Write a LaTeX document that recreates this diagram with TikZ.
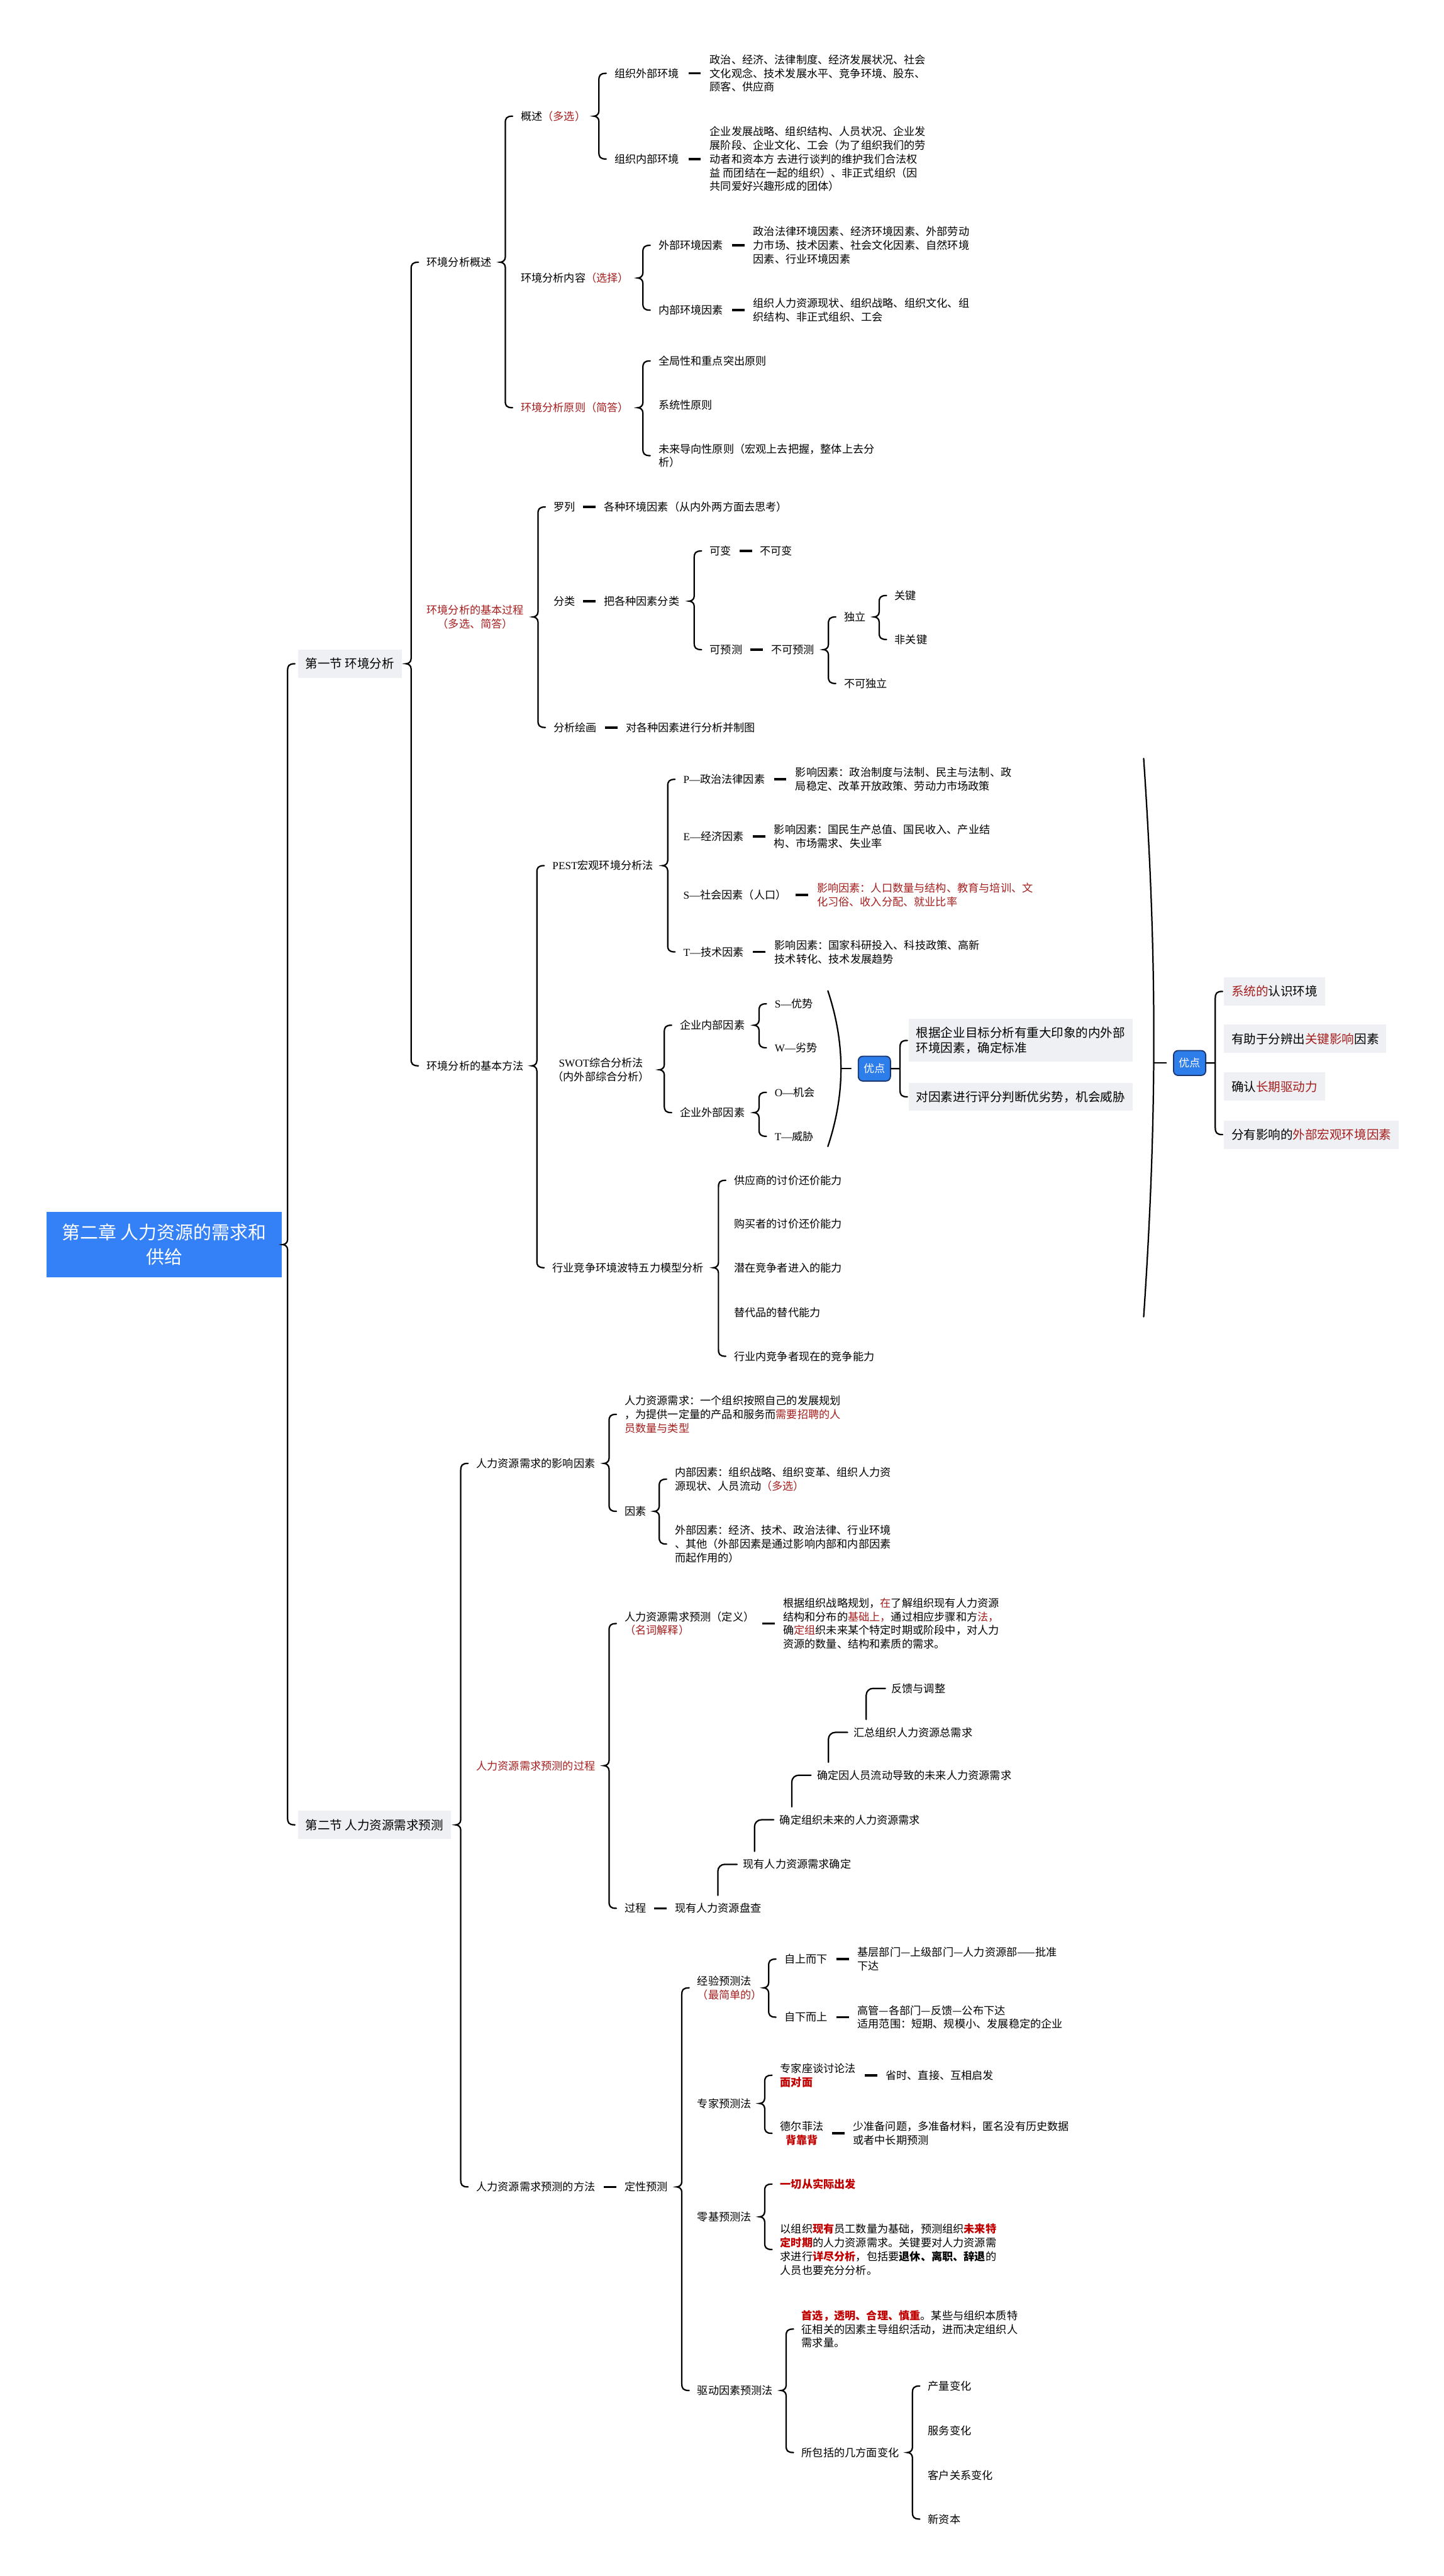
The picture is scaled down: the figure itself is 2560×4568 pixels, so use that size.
\documentclass[tikz,border=0pt]{standalone}
\usepackage{fontspec}
\setmainfont{Noto Sans CJK SC}
\newfontfamily\serf{Liberation Serif}
\usetikzlibrary{calc}

\definecolor{hred}{RGB}{165,30,30}
\definecolor{bred}{RGB}{192,0,0}
\definecolor{boxgray}{RGB}{238,240,243}
\definecolor{rootblue}{RGB}{52,128,246}
\definecolor{tagblue}{RGB}{45,125,235}
\definecolor{tagedge}{RGB}{25,55,110}

\newcommand{\nfont}{\fontsize{5.45pt}{6.9pt}\selectfont}
\newcommand{\bfont}{\fontsize{6.2pt}{7.7pt}\selectfont}
\newcommand{\rfont}{\fontsize{9.2pt}{12.3pt}\selectfont}
\newcommand{\rb}{\bfseries\color{bred}}

% brace: parent, first child, last child
\newcommand{\brc}[4][0mm]{%
  \draw[brline] let \p1=(#2.east), \p2=(#3.west), \p3=(#4.west) in
    (\x2-1.4mm+#1,\y2) .. controls (\x2-2.5mm+#1,\y2) and (\x2-2.7mm+#1,\y2-0.4mm) .. (\x2-2.7mm+#1,\y2-1.2mm)
    -- (\x2-2.7mm+#1,\y1+0.9mm) .. controls (\x2-2.7mm+#1,\y1+0.3mm) and (\x2-3.2mm+#1,\y1) .. (\x2-3.6mm+#1,\y1)
    .. controls (\x2-3.2mm+#1,\y1) and (\x2-2.7mm+#1,\y1-0.3mm) .. (\x2-2.7mm+#1,\y1-0.9mm)
    -- (\x2-2.7mm+#1,\y3+1.2mm) .. controls (\x2-2.7mm+#1,\y3+0.4mm) and (\x2-2.5mm+#1,\y3) .. (\x2-1.4mm+#1,\y3);}
% brace with a stub instead of a tip
\newcommand{\brcs}[3]{%
  \draw[brline] let \p1=(#1.east), \p2=(#2.west), \p3=(#3.west) in
    (\x2-0.2mm,\y2) .. controls (\x2-1.3mm,\y2) and (\x2-1.5mm,\y2-0.4mm) .. (\x2-1.5mm,\y2-1.2mm)
    -- (\x2-1.5mm,\y3+1.2mm) .. controls (\x2-1.5mm,\y3+0.4mm) and (\x2-1.3mm,\y3) .. (\x2-0.2mm,\y3)
    (\p1) -- (\x2-1.5mm,\y1);}
% short dash between two nodes
\newcommand{\dsh}[2]{%
  \draw[dline] let \p1=(#1.east), \p2=(#2.west) in
    ({(\x1+\x2)/2-1.1mm},\y1) -- ({(\x1+\x2)/2+1.1mm},\y1);}
% step of the process chain
\newcommand{\stp}[2]{%
  \draw[brline, rounded corners=1.2mm] let \p1=(#1.center), \p2=(#2.west) in
    (\x2-4.4mm,\y1+2.3mm) |- (\x2-1mm,\y2);}

\tikzset{
  t/.style={anchor=west, inner sep=0pt, align=left, font=\nfont},
  tc/.style={t, align=center},
  gbox/.style={anchor=west, fill=boxgray, inner xsep=1.3mm, inner ysep=1.4mm, minimum height=5mm, align=left, font=\bfont},
  sec/.style={gbox},
  tag/.style={anchor=west, fill=tagblue, draw=tagedge, line width=0.2mm, rounded corners=0.8mm, text=white, font=\nfont, minimum width=5.7mm, minimum height=4.4mm, inner sep=0pt},
  root/.style={anchor=west, fill=rootblue, text=white, minimum width=41.7mm, minimum height=11.7mm, align=center, font=\rfont, inner sep=0pt},
  brline/.style={line width=0.25mm, line cap=round},
  dline/.style={line width=0.4mm}
}

\begin{document}
\begin{tikzpicture}[x=0.1mm, y=-0.1mm]
\fill[white] (0,0) rectangle (2560,4568);
\useasboundingbox (0,0) rectangle (2560,4568);

% Root and sections
\node[root] (root) at (82,2207) {第二章 人力资源的需求和\\供给};
\node[sec] (sec1) at (528,1177) {第一节 环境分析};
\node[sec] (sec2) at (528,3236) {第二节 人力资源需求预测};
\brc[0.9mm]{root}{sec1}{sec2}

% Section 1
\node[t] (ov) at (756,465) {环境分析概述};
\node[tc, text=hred] (proc) at (756,1094) {环境分析的基本过程\\（多选、简答）};
\node[t] (meth) at (756,1890) {环境分析的基本方法};
\brc{sec1}{ov}{meth}

% Overview
\node[t] (ovA) at (923,206) {概述{\color{hred}（多选）}};
\node[t] (ovB) at (923,493) {环境分析内容{\color{hred}（选择）}};
\node[t, text=hred] (ovC) at (923,723) {环境分析原则（简答）};
\brc{ov}{ovA}{ovC}

\node[t] (extEnv) at (1089,130) {组织外部环境};
\node[t] (intEnv) at (1089,282) {组织内部环境};
\brc{ovA}{extEnv}{intEnv}
\node[t] (extEnvT) at (1258,130) {政治、经济、法律制度、经济发展状况、社会\\文化观念、技术发展水平、竞争环境、股东、\\顾客、供应商};
\node[t] (intEnvT) at (1258,282) {企业发展战略、组织结构、人员状况、企业发\\展阶段、企业文化、工会（为了组织我们的劳\\动者和资本方 去进行谈判的维护我们合法权\\益 而团结在一起的组织）、非正式组织（因\\共同爱好兴趣形成的团体）};
\dsh{extEnv}{extEnvT}
\dsh{intEnv}{intEnvT}

\node[t] (extFac) at (1167,435) {外部环境因素};
\node[t] (intFac) at (1167,550) {内部环境因素};
\brc{ovB}{extFac}{intFac}
\node[t] (extFacT) at (1335,435) {政治法律环境因素、经济环境因素、外部劳动\\力市场、技术因素、社会文化因素、自然环境\\因素、行业环境因素};
\node[t] (intFacT) at (1335,550) {组织人力资源现状、组织战略、组织文化、组\\织结构、非正式组织、工会};
\dsh{extFac}{extFacT}
\dsh{intFac}{intFacT}

\node[t] (prA) at (1167,640) {全局性和重点突出原则};
\node[t] (prB) at (1167,718) {系统性原则};
\node[t] (prC) at (1167,808) {未来导向性原则（宏观上去把握，整体上去分\\析）};
\brc{ovC}{prA}{prC}

% Basic process
\node[t] (list) at (981,899) {罗列};
\node[t] (cls) at (981,1066) {分类};
\node[t] (paint) at (981,1290) {分析绘画};
\brc{proc}{list}{paint}
\node[t] (listT) at (1070,899) {各种环境因素（从内外两方面去思考）};
\node[t] (clsT) at (1070,1066) {把各种因素分类};
\node[t] (paintT) at (1109,1290) {对各种因素进行分析并制图};
\dsh{list}{listT}
\dsh{cls}{clsT}
\dsh{paint}{paintT}

\node[t] (var) at (1258,977) {可变};
\node[t] (pred) at (1258,1152) {可预测};
\brc{clsT}{var}{pred}
\node[t] (varT) at (1347,977) {不可变};
\node[t] (predT) at (1367,1152) {不可预测};
\dsh{var}{varT}
\dsh{pred}{predT}

\node[t] (indep) at (1496,1094) {独立};
\node[t] (nindep) at (1496,1212) {不可独立};
\brc{predT}{indep}{nindep}
\node[t] (key) at (1586,1056) {关键};
\node[t] (nkey) at (1586,1134) {非关键};
\brc{indep}{key}{nkey}

% Basic methods
\node[t] (pest) at (979,1535) {{\serf PEST}宏观环境分析法};
\node[tc] (swot) at (979,1897) {{\serf SWOT}综合分析法\\（内外部综合分析）};
\node[t] (five) at (979,2248) {行业竞争环境波特五力模型分析};
\brc{meth}{pest}{five}

\node[t] (pP) at (1211,1382) {{\serf P—}政治法律因素};
\node[t] (pE) at (1211,1483) {{\serf E—}经济因素};
\node[t] (pS) at (1211,1587) {{\serf S—}社会因素（人口）};
\node[t] (pT) at (1211,1688) {{\serf T—}技术因素};
\brc{pest}{pP}{pT}
\node[t] (pPT) at (1410,1382) {影响因素：政治制度与法制、民主与法制、政\\局稳定、改革开放政策、劳动力市场政策};
\node[t] (pET) at (1372,1483) {影响因素：国民生产总值、国民收入、产业结\\构、市场需求、失业率};
\node[t, text=hred] (pST) at (1448,1587) {影响因素：人口数量与结构、教育与培训、文\\化习俗、收入分配、就业比率};
\node[t] (pTT) at (1373,1688) {影响因素：国家科研投入、科技政策、高新\\技术转化、技术发展趋势};
\dsh{pP}{pPT}
\dsh{pE}{pET}
\dsh{pS}{pST}
\dsh{pT}{pTT}

\node[t] (inner) at (1205,1818) {企业内部因素};
\node[t] (outer) at (1205,1973) {企业外部因素};
\brc{swot}{inner}{outer}
\node[t] (sS) at (1373,1780) {{\serf S—}优势};
\node[t] (sW) at (1373,1858) {{\serf W—}劣势};
\node[t] (sO) at (1373,1937) {{\serf O—}机会};
\node[t] (sT) at (1373,2015) {{\serf T—}威胁};
\brc{inner}{sS}{sW}
\brc{outer}{sO}{sT}

% SWOT summary
\draw[brline] (1468,1757) .. controls (1499,1850) and (1499,1940) .. (1468,2033);
\coordinate (swotmid) at (1491,1895);
\node[tag] (adv1) at (1521,1895) {优点};
\draw[brline, shorten >=1.2mm] (swotmid) -- (adv1.west);
\node[gbox] (adv1a) at (1611,1845) {根据企业目标分析有重大印象的内外部\\环境因素，确定标准};
\node[gbox] (adv1b) at (1611,1945) {对因素进行评分判断优劣势，机会威胁};
\brcs{adv1}{adv1a}{adv1b}

% Methods summary
\draw[brline] (2028,1345) .. controls (2052,1700) and (2052,1980) .. (2028,2335);
\coordinate (methmid) at (2046,1885);
\node[tag] (adv2) at (2080,1885) {优点};
\draw[brline, shorten >=1.2mm] (methmid) -- (adv2.west);
\node[gbox] (adv2a) at (2170,1758) {{\color{hred}系统的}认识环境};
\node[gbox] (adv2b) at (2170,1842) {有助于分辨出{\color{hred}关键影响}因素};
\node[gbox] (adv2c) at (2170,1927) {确认{\color{hred}长期驱动力}};
\node[gbox] (adv2d) at (2170,2012) {分有影响的{\color{hred}外部宏观环境因素}};
\brcs{adv2}{adv2a}{adv2d}

% Five forces
\node[t] (f1) at (1301,2093) {供应商的讨价还价能力};
\node[t] (f2) at (1301,2170) {购买者的讨价还价能力};
\node[t] (f3) at (1301,2248) {潜在竞争者进入的能力};
\node[t] (f4) at (1301,2327) {替代品的替代能力};
\node[t] (f5) at (1301,2405) {行业内竞争者现在的竞争能力};
\brc{five}{f1}{f5}

% Section 2
\node[t] (inf) at (844,2595) {人力资源需求的影响因素};
\node[t, text=hred] (fproc) at (844,3131) {人力资源需求预测的过程};
\node[t] (fmeth) at (844,3878) {人力资源需求预测的方法};
\brc{sec2}{inf}{fmeth}

% Influencing factors
\node[t] (infDef) at (1107,2508) {人力资源需求：一个组织按照自己的发展规划\\，为提供一定量的产品和服务而{\color{hred}需要招聘的人}\\{\color{hred}员数量与类型}};
\node[t] (infFac) at (1107,2680) {因素};
\brc{inf}{infDef}{infFac}
\node[t] (infIn) at (1196,2623) {内部因素：组织战略、组织变革、组织人力资\\源现状、人员流动{\color{hred}（多选）}};
\node[t] (infOut) at (1196,2738) {外部因素：经济、技术、政治法律、行业环境\\、其他（外部因素是通过影响内部和内部因素\\而起作用的）};
\brc{infFac}{infIn}{infOut}

% Forecasting process
\node[t] (defn) at (1107,2879) {人力资源需求预测（定义）\\{\color{hred}（名词解释）}};
\node[t] (steps) at (1107,3384) {过程};
\brc{fproc}{defn}{steps}
\node[t] (defnT) at (1388,2879) {根据组织战略规划，{\color{hred}在}了解组织现有人力资源\\结构和分布的{\color{hred}基础上，}通过相应步骤和方{\color{hred}法，}\\确{\color{hred}定组}织未来某个特定时期或阶段中，对人力\\资源的数量、结构和素质的需求。};
\dsh{defn}{defnT}

\node[t] (stp0) at (1196,3384) {现有人力资源盘查};
\dsh{steps}{stp0}
\node[t] (stp1) at (1317,3306) {现有人力资源需求确定};
\node[t] (stp2) at (1382,3227) {确定组织未来的人力资源需求};
\node[t] (stp3) at (1448,3148) {确定因人员流动导致的未来人力资源需求};
\node[t] (stp4) at (1513,3072) {汇总组织人力资源总需求};
\node[t] (stp5) at (1580,2994) {反馈与调整};
\stp{stp0}{stp1}
\stp{stp1}{stp2}
\stp{stp2}{stp3}
\stp{stp3}{stp4}
\stp{stp4}{stp5}

% Forecasting methods
\node[t] (qual) at (1107,3878) {定性预测};
\dsh{fmeth}{qual}
\node[t] (exper) at (1236,3525) {经验预测法\\{\color{hred}（最简单的）}};
\node[t] (expert) at (1236,3730) {专家预测法};
\node[t] (zero) at (1236,3931) {零基预测法};
\node[t] (driver) at (1236,4239) {驱动因素预测法};
\brc{qual}{exper}{driver}

\node[t] (tdown) at (1390,3474) {自上而下};
\node[t] (bup) at (1390,3577) {自下而上};
\brc{exper}{tdown}{bup}
\node[t] (tdownT) at (1520,3474) {基层部门—上级部门—人力资源部——批准\\下达};
\node[t] (bupT) at (1520,3577) {高管—各部门—反馈—公布下达\\适用范围：短期、规模小、发展稳定的企业};
\dsh{tdown}{tdownT}
\dsh{bup}{bupT}

\node[t] (meet) at (1383,3680) {专家座谈讨论法\\{\rb 面对面}};
\node[tc] (delphi) at (1383,3783) {德尔菲法\\{\rb 背靠背}};
\brc{expert}{meet}{delphi}
\node[t] (meetT) at (1570,3680) {省时、直接、互相启发};
\node[t] (delphiT) at (1512,3783) {少准备问题，多准备材料，匿名没有历史数据\\或者中长期预测};
\dsh{meet}{meetT}
\dsh{delphi}{delphiT}

\node[t] (zeroA) at (1383,3873) {\rb 一切从实际出发};
\node[t] (zeroB) at (1383,3989) {以组织{\rb 现有}员工数量为基础，预测组织{\rb 未来特}\\{\rb 定时期}的人力资源需求。关键要对人力资源需\\求进行{\rb 详尽分析}，包括要{\bfseries 退休、离职、辞退}的\\人员也要充分分析。};
\brc{zero}{zeroA}{zeroB}

\node[t] (drvA) at (1421,4130) {{\rb 首选，透明、合理、慎重}。某些与组织本质特\\征相关的因素主导组织活动，进而决定组织人\\需求量。};
\node[t] (drvB) at (1421,4349) {所包括的几方面变化};
\brc{driver}{drvA}{drvB}
\node[t] (chg1) at (1645,4231) {产量变化};
\node[t] (chg2) at (1645,4310) {服务变化};
\node[t] (chg3) at (1645,4389) {客户关系变化};
\node[t] (chg4) at (1645,4467) {新资本};
\brc{drvB}{chg1}{chg4}

\end{tikzpicture}
\end{document}
